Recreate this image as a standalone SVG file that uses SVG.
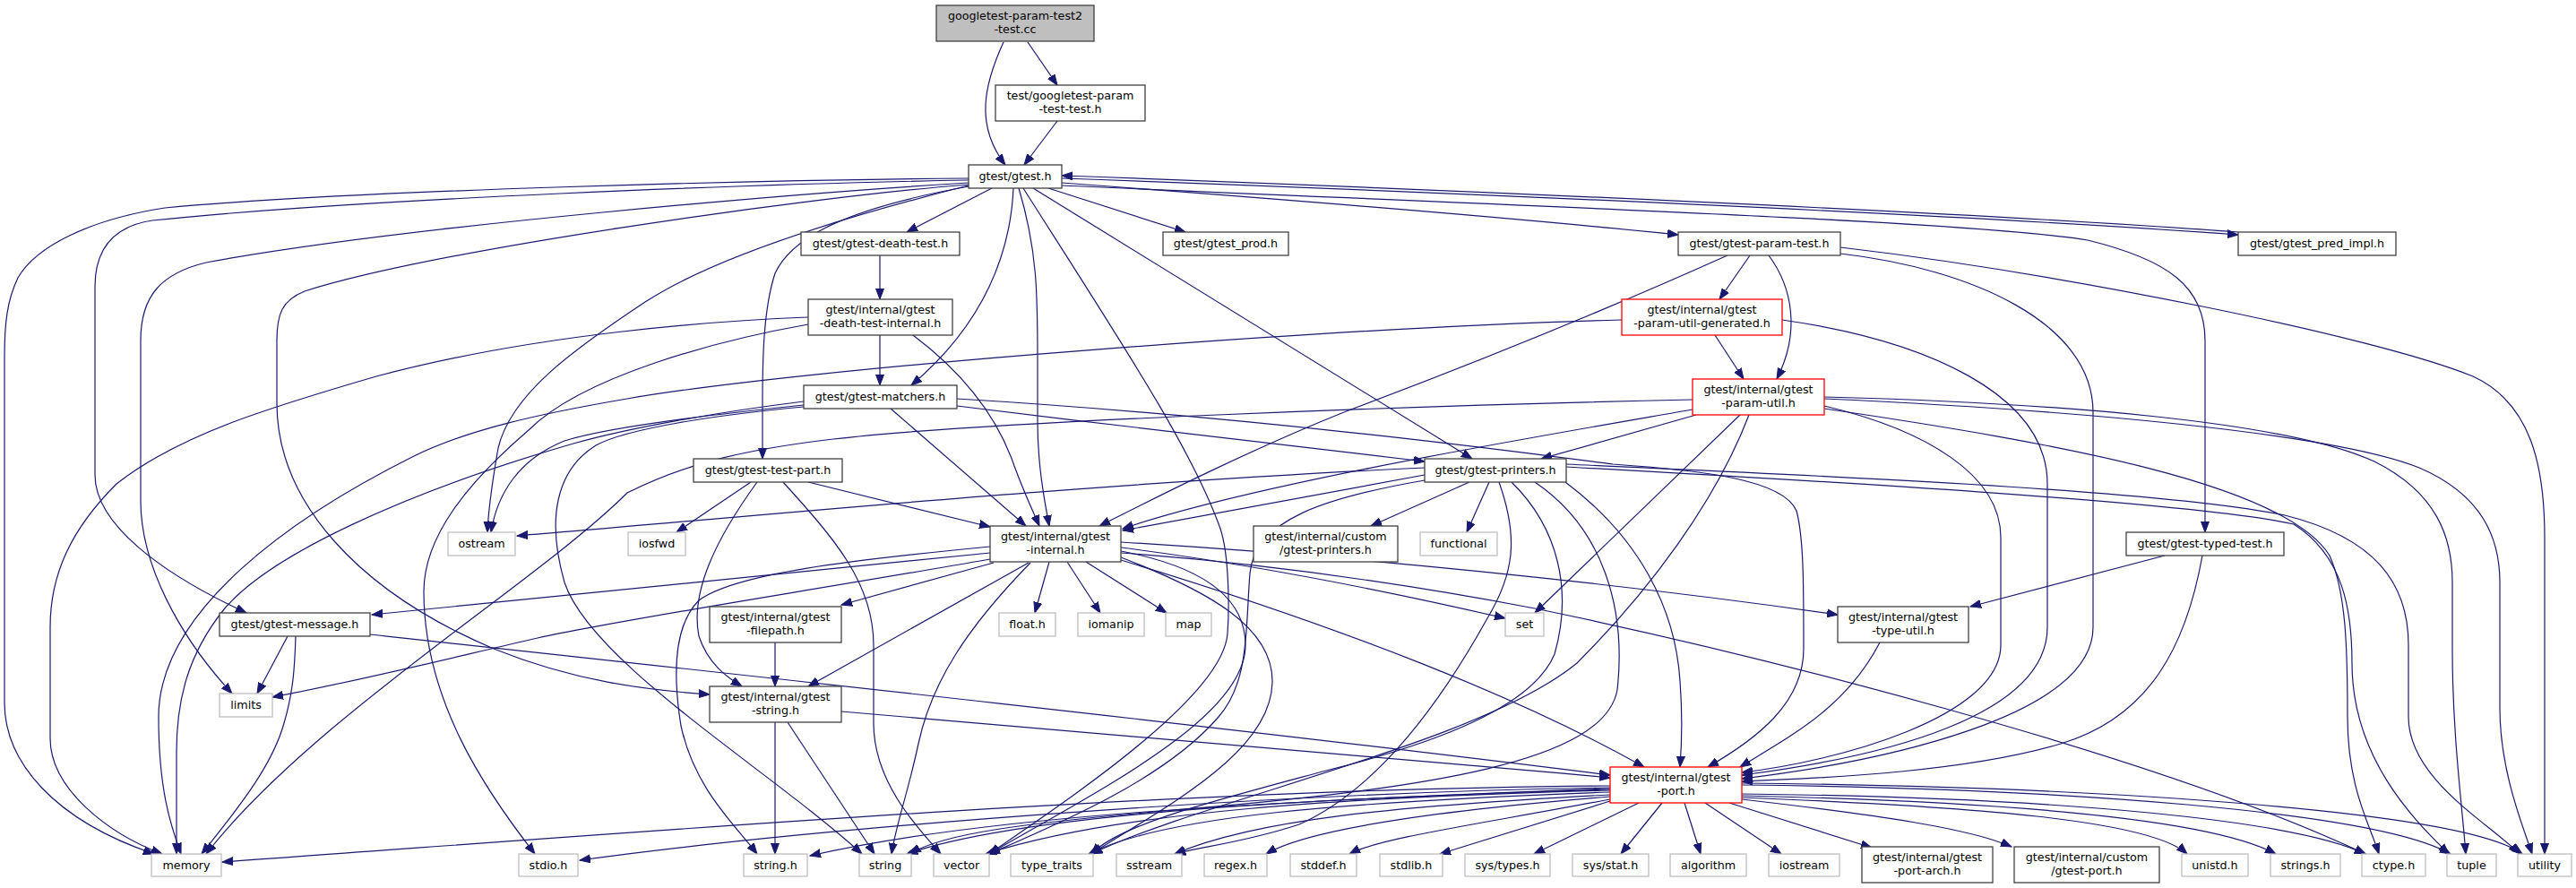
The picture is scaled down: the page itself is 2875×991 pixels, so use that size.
<svg xmlns="http://www.w3.org/2000/svg" width="2875" height="991" viewBox="0 0 2875 991">
<style>
rect{fill:#fff;stroke:#404040;stroke-width:1.3}
.g rect{stroke:#bfbfbf}
.r rect{stroke:#ff0000}
.top rect{fill:#bfbfbf}
text{font-family:"DejaVu Sans","Liberation Sans",sans-serif;font-size:12.7px;text-anchor:middle;fill:#000}
#edges path{fill:none;stroke:#191970;stroke-width:1.2;marker-end:url(#ah)}
</style>
<defs>
<marker id="ah" markerUnits="userSpaceOnUse" markerWidth="13" markerHeight="10" refX="12" refY="5" orient="auto" viewBox="0 0 13 10"><path d="M0,0.5 L12,5 L0,9.5 z" fill="#191970" stroke="#191970" stroke-width="1"/></marker>
</defs>
<rect x="0" y="0" width="2875" height="991" style="fill:#fff;stroke:none"/>
<g id="edges">
<path d="M1120,47 C1098,95 1088,140 1122,184"/>
<path d="M1147,47 L1180,95"/>
<path d="M1180,135 L1143,184"/>
<path d="M1081,199 C850,201 400,212 184,232 C100,245 40,275 20,310 C8,335 5,360 5,400 L5,784 C5,850 60,915 172,953"/>
<path d="M1081,201 C850,205 400,222 170,246 C130,252 106,275 106,320 L106,530 C106,585 180,640 275,684"/>
<path d="M1081,204 C900,215 450,252 230,293 C180,305 157,330 157,380 L157,559 C157,630 200,710 259,774"/>
<path d="M1081,206 C900,220 480,280 340,325 C315,335 309,350 309,380 L309,450 C309,560 400,660 551,724 C640,760 720,770 792,775"/>
<path d="M1081,207 C950,240 800,285 720,337 C640,390 570,440 556,500 C549,540 545,570 544,594"/>
<path d="M1107,210 L1012,259"/>
<path d="M1131,210 C1128,280 1100,360 1017,430"/>
<path d="M1137,210 C1158,280 1158,330 1158,400 L1158,470 C1158,520 1166,560 1171,587"/>
<path d="M1142,210 C1250,380 1330,500 1362,590 C1372,620 1372,680 1370,707 C1365,780 1180,900 1104,953"/>
<path d="M1153,210 L1643,512"/>
<path d="M1170,210 L1323,259"/>
<path d="M1185,204 C1400,220 1700,244 1873,262"/>
<path d="M1185,199 C1600,214 2200,240 2498,262"/>
<path d="M2498,259 C2200,237 1600,211 1185,196"/>
<path d="M1185,207 C1600,226 2200,246 2330,268 C2420,290 2461,320 2461,380 L2461,594"/>
<path d="M1081,208 C950,232 885,262 865,305 C852,345 851,400 851,450 L851,512"/>
<path d="M982,285 L982,334"/>
<path d="M982,374 L982,430"/>
<path d="M1019,374 C1080,420 1115,470 1132,520 C1145,555 1155,575 1160,587"/>
<path d="M902,354 C800,358 600,372 420,420 C300,455 200,485 130,540 C80,590 56,640 56,700 L56,824 C56,880 120,930 181,953"/>
<path d="M902,362 C800,380 650,420 590,480 C520,540 473,600 473,660 C473,780 540,880 597,953"/>
<path d="M897,448 C800,460 700,478 640,495 C450,550 300,620 250,680 C210,730 197,780 197,840 L197,953"/>
<path d="M897,452 C800,462 680,476 630,492 C580,512 555,550 548,594"/>
<path d="M897,454 C800,463 700,478 665,497 C620,525 610,580 630,650 C660,740 860,860 962,953"/>
<path d="M1068,453 C1250,475 1450,500 1590,515"/>
<path d="M994,456 L1145,587"/>
<path d="M1068,445 C1400,465 1700,505 1800,518 C1900,525 1990,535 2005,570 C2013,600 2013,650 2013,724 C2013,785 1960,825 1906,856"/>
<path d="M321,710 L287,774"/>
<path d="M330,710 C329,740 328,770 317,807 C305,850 275,891 225,953"/>
<path d="M413,708 C800,750 1400,815 1797,865"/>
<path d="M838,538 L755,594"/>
<path d="M874,538 C930,600 975,650 975,720 L975,807 C975,870 1020,920 1050,953"/>
<path d="M902,538 L1105,588"/>
<path d="M845,538 C800,600 770,660 780,710 C790,740 810,755 828,766"/>
<path d="M865,717 L865,766"/>
<path d="M865,806 L865,953"/>
<path d="M879,806 L976,953"/>
<path d="M939,794 C1200,815 1500,840 1797,868"/>
<path d="M1928,285 C1850,320 1700,385 1500,460 C1400,500 1300,550 1227,587"/>
<path d="M1953,285 L1919,334"/>
<path d="M1974,285 C2000,320 2010,370 1983,423"/>
<path d="M2054,283 C2200,300 2336,360 2336,460 L2336,700 C2336,800 2100,850 1944,869"/>
<path d="M2054,276 C2300,305 2650,375 2760,420 C2825,450 2840,520 2840,600 L2840,953"/>
<path d="M1914,374 L1946,423"/>
<path d="M1989,357 C2150,380 2285,440 2285,540 L2285,700 C2285,800 2100,845 1944,865"/>
<path d="M1810,357 C1500,365 900,410 700,445 C600,462 520,480 460,510 C330,575 177,680 177,800 C177,880 190,920 202,953"/>
<path d="M1889,446 C1600,452 1100,470 930,490 C820,503 760,520 700,550 C600,650 350,800 230,953"/>
<path d="M1889,457 C1700,490 1400,540 1253,590"/>
<path d="M1893,463 L1720,512"/>
<path d="M1942,463 L1713,684"/>
<path d="M1952,463 C1915,560 1840,660 1760,740 C1650,830 1350,890 1218,953"/>
<path d="M1251,615 C1330,630 1390,660 1390,720 C1390,800 1230,880 1104,953"/>
<path d="M1251,622 C1350,660 1420,700 1420,760 C1420,840 1300,900 1218,953"/>
<path d="M1590,522 C1200,540 800,580 577,598"/>
<path d="M1590,530 L1253,592"/>
<path d="M1640,538 L1530,587"/>
<path d="M1662,538 L1637,594"/>
<path d="M1673,538 C1695,600 1690,640 1660,690 C1610,780 1540,880 1450,920 C1390,940 1340,945 1311,953"/>
<path d="M1687,538 C1740,590 1755,660 1735,730 C1710,790 1600,830 1480,860 C1350,895 1250,920 1218,953"/>
<path d="M1713,538 C1790,590 1815,680 1805,770 C1790,850 1600,880 1300,905 C1150,918 1050,930 1016,953"/>
<path d="M1590,536 C1480,555 1400,580 1395,640 C1390,700 1395,760 1360,800 C1300,870 1180,920 1104,953"/>
<path d="M1747,538 C1830,600 1870,680 1875,760 C1878,800 1877,830 1875,856"/>
<path d="M1748,518 C2000,530 2400,545 2550,575 C2650,600 2688,650 2688,720 L2688,800 C2688,870 2780,920 2812,953"/>
<path d="M1748,521 C2000,535 2450,560 2560,585 C2615,620 2625,680 2625,740 C2625,850 2700,920 2733,953"/>
<path d="M2036,456 C2300,495 2550,540 2600,620 C2618,660 2620,720 2620,800 C2620,880 2645,920 2655,953"/>
<path d="M2036,443 C2300,450 2550,470 2650,515 C2720,550 2737,600 2737,650 L2737,724 C2737,820 2748,900 2752,953"/>
<path d="M2036,445 C2300,457 2600,482 2700,522 C2770,552 2790,600 2790,650 L2790,790 C2790,860 2815,920 2826,953"/>
<path d="M2036,453 C2150,480 2233,530 2233,600 L2233,720 C2233,800 2050,850 1944,862"/>
<path d="M1105,617 L415,686"/>
<path d="M1105,624 C900,660 700,690 600,712 C500,735 400,760 304,778"/>
<path d="M1109,628 L939,675"/>
<path d="M1148,628 L902,766"/>
<path d="M1150,628 C1080,700 1040,760 1025,830 C1012,890 1000,920 995,953"/>
<path d="M1105,610 C950,625 820,640 780,670 C750,700 752,760 760,810 C775,880 820,920 845,953"/>
<path d="M1171,627 L1155,684"/>
<path d="M1191,627 L1228,684"/>
<path d="M1212,627 L1302,684"/>
<path d="M1251,611 C1400,630 1550,660 1680,690"/>
<path d="M1251,605 C1500,620 1800,650 2051,686"/>
<path d="M1251,617 C1400,628 1550,648 1713,679 C1950,728 2400,840 2640,953"/>
<path d="M1251,625 C1500,700 1700,780 1835,856"/>
<path d="M2098,717 C2060,790 2000,820 1942,856"/>
<path d="M2416,620 L2199,677"/>
<path d="M2458,620 C2440,720 2400,800 2300,830 C2200,860 2050,868 1944,872"/>
<path d="M1797,877 C1300,880 700,930 248,962"/>
<path d="M1797,879 C1400,885 900,925 647,960"/>
<path d="M1797,880 C1400,895 1100,910 904,955"/>
<path d="M1797,881 C1500,890 1150,905 1012,953"/>
<path d="M1797,882 C1500,890 1250,905 1100,953"/>
<path d="M1797,884 C1500,895 1300,910 1215,953"/>
<path d="M1797,887 C1550,900 1400,915 1311,953"/>
<path d="M1797,889 C1600,905 1460,925 1413,953"/>
<path d="M1797,892 C1650,920 1540,935 1506,953"/>
<path d="M1797,894 L1607,953"/>
<path d="M1829,896 L1712,953"/>
<path d="M1855,896 L1809,953"/>
<path d="M1880,896 L1898,953"/>
<path d="M1903,896 L1988,953"/>
<path d="M1930,896 L2089,946"/>
<path d="M1944,892 C2100,910 2200,925 2245,945"/>
<path d="M1944,890 C2200,900 2400,915 2441,953"/>
<path d="M1944,888 C2250,895 2470,915 2540,953"/>
<path d="M1944,886 C2300,890 2560,915 2640,953"/>
<path d="M1944,876 C2300,880 2650,905 2735,953"/>
<path d="M1944,874 C2350,878 2750,905 2815,953"/>
</g>
<g id="n_top" class="top"><rect x="1045" y="6" width="176" height="40"/><text x="1133" y="22">googletest-param-test2</text><text x="1133" y="37">-test.cc</text></g>
<g id="n_pt"><rect x="1111" y="95" width="167" height="40"/><text x="1194.5" y="111">test/googletest-param</text><text x="1194.5" y="126">-test-test.h</text></g>
<g id="n_gtest"><rect x="1081" y="184" width="104" height="26"/><text x="1133" y="201">gtest/gtest.h</text></g>
<g id="n_death"><rect x="894" y="259" width="177" height="26"/><text x="982.5" y="276">gtest/gtest-death-test.h</text></g>
<g id="n_prod"><rect x="1298" y="259" width="140" height="26"/><text x="1368" y="276">gtest/gtest_prod.h</text></g>
<g id="n_ptest"><rect x="1873" y="259" width="181" height="26"/><text x="1963.5" y="276">gtest/gtest-param-test.h</text></g>
<g id="n_pred"><rect x="2498" y="259" width="176" height="26"/><text x="2586" y="276">gtest/gtest_pred_impl.h</text></g>
<g id="n_dti"><rect x="902" y="334" width="161" height="40"/><text x="982.5" y="350">gtest/internal/gtest</text><text x="982.5" y="365">-death-test-internal.h</text></g>
<g id="n_gen" class="r"><rect x="1810" y="334" width="179" height="40"/><text x="1899.5" y="350">gtest/internal/gtest</text><text x="1899.5" y="365">-param-util-generated.h</text></g>
<g id="n_match"><rect x="897" y="430" width="171" height="26"/><text x="982.5" y="447">gtest/gtest-matchers.h</text></g>
<g id="n_putil" class="r"><rect x="1889" y="423" width="147" height="40"/><text x="1962.5" y="439">gtest/internal/gtest</text><text x="1962.5" y="454">-param-util.h</text></g>
<g id="n_tpart"><rect x="774" y="512" width="166" height="26"/><text x="857" y="529">gtest/gtest-test-part.h</text></g>
<g id="n_print"><rect x="1590" y="512" width="158" height="26"/><text x="1669" y="529">gtest/gtest-printers.h</text></g>
<g id="n_ostream" class="g"><rect x="500" y="594" width="75" height="26"/><text x="537.5" y="611">ostream</text></g>
<g id="n_iosfwd" class="g"><rect x="701" y="594" width="64" height="26"/><text x="733" y="611">iosfwd</text></g>
<g id="n_internal"><rect x="1105" y="587" width="146" height="40"/><text x="1178" y="603">gtest/internal/gtest</text><text x="1178" y="618">-internal.h</text></g>
<g id="n_cprint"><rect x="1399" y="587" width="161" height="40"/><text x="1479.5" y="603">gtest/internal/custom</text><text x="1479.5" y="618">/gtest-printers.h</text></g>
<g id="n_functional" class="g"><rect x="1585" y="594" width="86" height="26"/><text x="1628" y="611">functional</text></g>
<g id="n_typed"><rect x="2373" y="594" width="176" height="26"/><text x="2461" y="611">gtest/gtest-typed-test.h</text></g>
<g id="n_message"><rect x="245" y="684" width="168" height="26"/><text x="329" y="701">gtest/gtest-message.h</text></g>
<g id="n_filepath"><rect x="792" y="677" width="147" height="40"/><text x="865.5" y="693">gtest/internal/gtest</text><text x="865.5" y="708">-filepath.h</text></g>
<g id="n_float" class="g"><rect x="1115" y="684" width="63" height="26"/><text x="1146.5" y="701">float.h</text></g>
<g id="n_iomanip" class="g"><rect x="1203" y="684" width="74" height="26"/><text x="1240" y="701">iomanip</text></g>
<g id="n_map" class="g"><rect x="1301" y="684" width="51" height="26"/><text x="1326.5" y="701">map</text></g>
<g id="n_set" class="g"><rect x="1680" y="684" width="43" height="26"/><text x="1701.5" y="701">set</text></g>
<g id="n_typeutil"><rect x="2051" y="677" width="146" height="40"/><text x="2124" y="693">gtest/internal/gtest</text><text x="2124" y="708">-type-util.h</text></g>
<g id="n_limits" class="g"><rect x="245" y="774" width="59" height="26"/><text x="274.5" y="791">limits</text></g>
<g id="n_gstring"><rect x="792" y="766" width="147" height="40"/><text x="865.5" y="782">gtest/internal/gtest</text><text x="865.5" y="797">-string.h</text></g>
<g id="n_port" class="r"><rect x="1797" y="856" width="147" height="40"/><text x="1870.5" y="872">gtest/internal/gtest</text><text x="1870.5" y="887">-port.h</text></g>
<g id="n_memory" class="g"><rect x="169" y="953" width="78" height="25"/><text x="208" y="970">memory</text></g>
<g id="n_stdio" class="g"><rect x="579" y="953" width="66" height="25"/><text x="612" y="970">stdio.h</text></g>
<g id="n_stringh" class="g"><rect x="830" y="953" width="71" height="25"/><text x="865.5" y="970">string.h</text></g>
<g id="n_string" class="g"><rect x="959" y="953" width="58" height="25"/><text x="988" y="970">string</text></g>
<g id="n_vector" class="g"><rect x="1042" y="953" width="62" height="25"/><text x="1073" y="970">vector</text></g>
<g id="n_typetraits" class="g"><rect x="1128" y="953" width="92" height="25"/><text x="1174" y="970">type_traits</text></g>
<g id="n_sstream" class="g"><rect x="1246" y="953" width="73" height="25"/><text x="1282.5" y="970">sstream</text></g>
<g id="n_regex" class="g"><rect x="1344" y="953" width="70" height="25"/><text x="1379" y="970">regex.h</text></g>
<g id="n_stddef" class="g"><rect x="1440" y="953" width="74" height="25"/><text x="1477" y="970">stddef.h</text></g>
<g id="n_stdlib" class="g"><rect x="1540" y="953" width="70" height="25"/><text x="1575" y="970">stdlib.h</text></g>
<g id="n_systypes" class="g"><rect x="1635" y="953" width="95" height="25"/><text x="1682.5" y="970">sys/types.h</text></g>
<g id="n_sysstat" class="g"><rect x="1755" y="953" width="85" height="25"/><text x="1797.5" y="970">sys/stat.h</text></g>
<g id="n_algorithm" class="g"><rect x="1864" y="953" width="85" height="25"/><text x="1906.5" y="970">algorithm</text></g>
<g id="n_iostream" class="g"><rect x="1974" y="953" width="79" height="25"/><text x="2013.5" y="970">iostream</text></g>
<g id="n_portarch"><rect x="2078" y="945" width="146" height="40"/><text x="2151" y="961">gtest/internal/gtest</text><text x="2151" y="976">-port-arch.h</text></g>
<g id="n_cport"><rect x="2248" y="945" width="162" height="40"/><text x="2329" y="961">gtest/internal/custom</text><text x="2329" y="976">/gtest-port.h</text></g>
<g id="n_unistd" class="g"><rect x="2435" y="953" width="74" height="25"/><text x="2472" y="970">unistd.h</text></g>
<g id="n_strings" class="g"><rect x="2534" y="953" width="78" height="25"/><text x="2573" y="970">strings.h</text></g>
<g id="n_ctype" class="g"><rect x="2636" y="953" width="71" height="25"/><text x="2671.5" y="970">ctype.h</text></g>
<g id="n_tuple" class="g"><rect x="2731" y="953" width="55" height="25"/><text x="2758.5" y="970">tuple</text></g>
<g id="n_utility" class="g"><rect x="2810" y="953" width="60" height="25"/><text x="2840" y="970">utility</text></g>
</svg>
